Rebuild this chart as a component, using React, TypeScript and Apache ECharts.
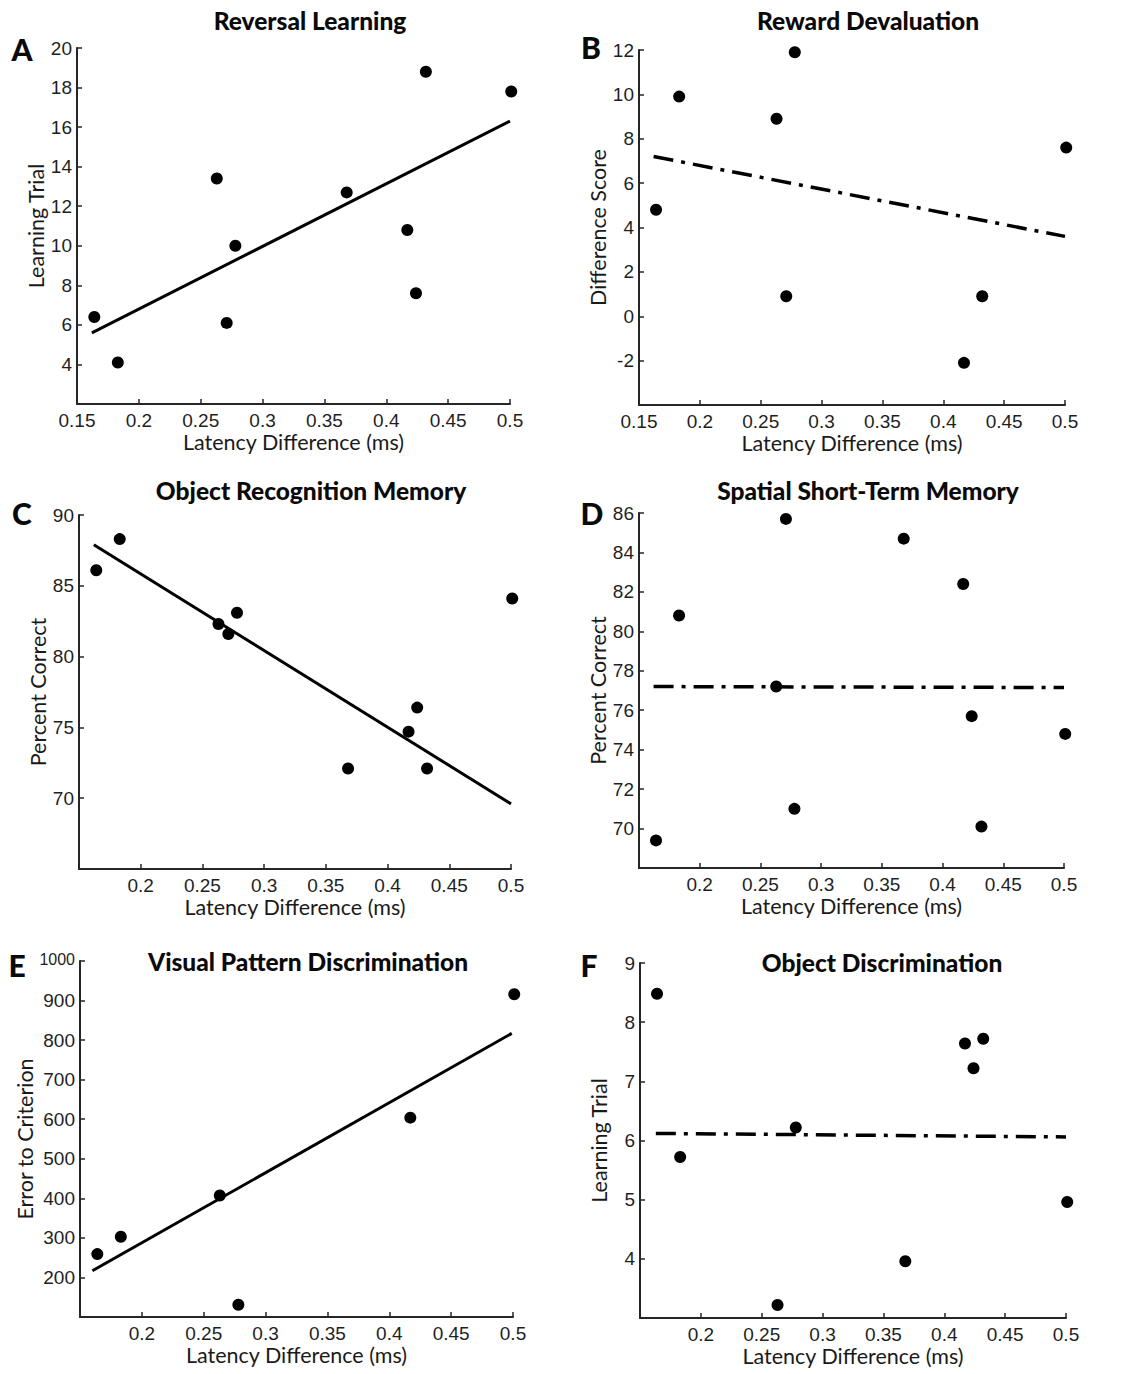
import React, { useEffect, useRef } from "react";
import * as echarts from "echarts";

// Latency difference (ms) for the 10 subjects, shared by all panels
const latency = [0.164, 0.183, 0.263, 0.271, 0.278, 0.368, 0.417, 0.424, 0.432, 0.501];

// Per-panel outcome values (null = subject not plotted in that panel)
const reversalLearning = [6.4, 4.1, 13.4, 6.1, 10.0, 12.7, 10.8, 7.6, 18.8, 17.8];
const rewardDevaluation = [4.8, 9.9, 8.9, 0.9, 11.9, null, -2.1, null, 0.9, 7.6];
const objectRecognition = [86.1, 88.3, 82.3, 81.6, 83.1, 72.1, 74.7, 76.4, 72.1, 84.1];
const spatialMemory = [69.4, 80.8, 77.2, 85.7, 71.0, 84.7, 82.4, 75.7, 70.1, 74.8];
const visualPattern = [259, 303, 407, null, 131, null, 604, null, null, 916];
const objectDiscrimination = [8.48, 5.72, 3.22, null, 6.22, 3.96, 7.64, 7.22, 7.72, 4.96];

// Fitted regression line endpoints [x0, y0, x1, y1]
const fitA = [0.162, 5.6, 0.5, 16.3];
const fitB = [0.162, 7.2, 0.5, 3.6];
const fitC = [0.162, 87.9, 0.5, 69.6];
const fitD = [0.162, 77.2, 0.5, 77.15];
const fitE = [0.16, 217, 0.499, 817];
const fitF = [0.163, 6.12, 0.5, 6.06];

const titles = [
  "Reversal Learning",
  "Reward Devaluation",
  "Object Recognition Memory",
  "Spatial Short-Term Memory",
  "Visual Pattern Discrimination",
  "Object Discrimination",
];
const letters = ["A", "B", "C", "D", "E", "F"];
const yNames = [
  "Learning Trial",
  "Difference Score",
  "Percent Correct",
  "Percent Correct",
  "Error to Criterion",
  "Learning Trial",
];
const xName = "Latency Difference (ms)";

// y-axis ranges: [min, max, interval]
const yRanges = [
  [2, 20, 2],
  [-4, 12, 2],
  [65, 90, 5],
  [68, 86, 2],
  [100, 1000, 100],
  [3, 9, 1],
];
const xRange = [0.15, 0.5, 0.05];

const panelValues = [
  reversalLearning,
  rewardDevaluation,
  objectRecognition,
  spatialMemory,
  visualPattern,
  objectDiscrimination,
];
const fits = [fitA, fitB, fitC, fitD, fitE, fitF];
const fitDashed = [false, true, false, true, false, true];
const showFirstX = [true, true, false, false, false, false];

// layout (pixels)
const grids = [
  { left: 77, top: 48, width: 433, height: 356 },
  { left: 639, top: 50, width: 426, height: 355 },
  { left: 79, top: 515, width: 432, height: 354 },
  { left: 639, top: 513, width: 425, height: 355 },
  { left: 80, top: 961, width: 433, height: 356 },
  { left: 640, top: 963, width: 426, height: 355 },
];
const titlePos = [
  [310, 8],
  [868, 8],
  [311, 478],
  [868, 478],
  [308, 949],
  [882, 950],
];
const letterPos = [
  [22, 49],
  [591, 47],
  [22, 513],
  [592, 513],
  [17, 965],
  [589, 965],
];
const yNameGaps = [26, 28, 26, 29, 37, 30];

export default function App() {
  const ref = useRef<HTMLDivElement>(null);
  useEffect(() => {
    if (!ref.current) return;
    const chart = echarts.init(ref.current, undefined, { renderer: "svg" });
    const axisColor = "#262626";
    const labelFont = "Liberation Sans, Arial, sans-serif";
    const nameFont = "Lato";

    const xAxes = grids.map((_, i) => ({
      gridIndex: i,
      type: "value",
      min: xRange[0],
      max: xRange[1],
      interval: xRange[2],
      axisLine: { show: true, onZero: false, lineStyle: { color: axisColor, width: 2 } },
      axisTick: { show: true, inside: true, length: 5, lineStyle: { color: axisColor, width: 1.5 } },
      splitLine: { show: false },
      axisLabel: {
        fontFamily: labelFont,
        fontSize: 19,
        color: "#1f1f1f",
        margin: 7,
        formatter: (v: number) => {
          if (!showFirstX[i] && Math.abs(v - xRange[0]) < 1e-9) return "";
          return String(Number(v.toFixed(2)));
        },
      },
      name: xName,
      nameLocation: "middle",
      nameGap: 26,
      nameTextStyle: { fontFamily: nameFont, fontSize: 21.5, color: "#1a1a1a" },
    }));

    const yAxes = grids.map((_, i) => ({
      gridIndex: i,
      type: "value",
      min: yRanges[i][0],
      max: yRanges[i][1],
      interval: yRanges[i][2],
      axisLine: { show: true, onZero: false, lineStyle: { color: axisColor, width: 2 } },
      axisTick: { show: true, inside: true, length: 5, lineStyle: { color: axisColor, width: 1.5 } },
      splitLine: { show: false },
      axisLabel: {
        fontFamily: labelFont,
        fontSize: 19,
        color: "#1f1f1f",
        margin: 5,
        formatter: (v: number) => {
          if (Math.abs(v - yRanges[i][0]) < 1e-9) return "";
          if (v === 1000) return "{s|1000}";
          return String(v);
        },
        rich: { s: { fontFamily: labelFont, fontSize: 16, color: "#1f1f1f", padding: [0, 0, 4, 0] } },
      },
      name: yNames[i],
      nameLocation: "middle",
      nameGap: yNameGaps[i],
      nameTextStyle: { fontFamily: nameFont, fontSize: 21.5, color: "#1a1a1a" },
    }));

    const series: any[] = [];
    panelValues.forEach((vals, i) => {
      const data = latency
        .map((x, k) => [x, vals[k]])
        .filter((d) => d[1] !== null && d[1] !== undefined);
      series.push({
        type: "scatter",
        xAxisIndex: i,
        yAxisIndex: i,
        data,
        symbol: "circle",
        symbolSize: 12,
        clip: false,
        itemStyle: { color: "#000", opacity: 1 },
        z: 3,
      });
      const f = fits[i];
      series.push({
        type: "line",
        xAxisIndex: i,
        yAxisIndex: i,
        data: [
          [f[0], f[1]],
          [f[2], f[3]],
        ],
        symbol: "none",
        clip: false,
        lineStyle: {
          color: "#000",
          width: fitDashed[i] ? 3.5 : 3,
          type: fitDashed[i] ? [20, 8, 4, 8] : "solid",
          cap: "butt",
        },
        z: 2,
      });
    });

    const option: any = {
      animation: false,
      backgroundColor: "#fff",
      title: titles.map((t, i) => ({
        text: t,
        left: titlePos[i][0],
        top: titlePos[i][1],
        textAlign: "center",
        textStyle: { fontFamily: nameFont, fontWeight: 900, fontSize: 24.5, color: "#0a0a0a" },
        padding: 0,
      })),
      grid: grids.map((g) => ({ ...g, containLabel: false })),
      xAxis: xAxes,
      yAxis: yAxes,
      series,
      graphic: letters.map((l, i) => ({
        type: "text",
        x: letterPos[i][0],
        y: letterPos[i][1],
        style: {
          text: l,
          fontFamily: nameFont,
          fontWeight: 900,
          fontSize: 30,
          fill: "#0a0a0a",
          textAlign: "center",
          textVerticalAlign: "middle",
        },
      })),
    };
    chart.setOption(option);
    return () => chart.dispose();
  }, []);
  return (
    <div
      ref={ref}
      style={{ position: "absolute", left: 0, top: 0, width: 1129, height: 1374, background: "#fff" }}
    />
  );
}
